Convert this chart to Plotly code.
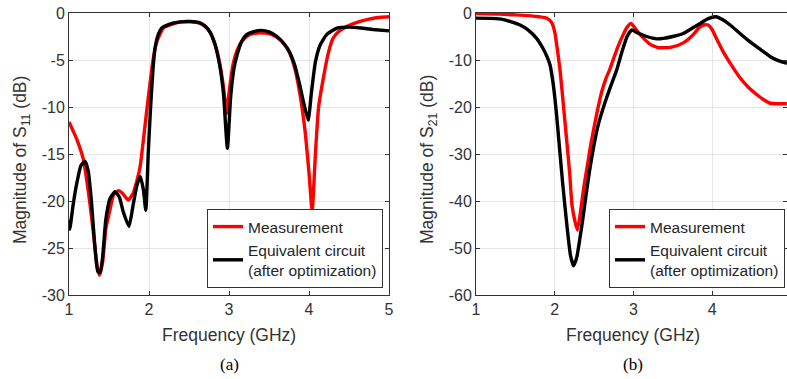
import plotly.graph_objects as go

# ---- (a) S11 ----
s11_meas_f = [1.00, 1.10, 1.18, 1.25, 1.30, 1.35, 1.38, 1.42, 1.46, 1.51, 1.56, 1.62, 1.67, 1.74, 1.80,
              1.85, 1.89, 1.93, 1.97, 2.01, 2.05, 2.10, 2.18, 2.30, 2.40, 2.51, 2.62, 2.70, 2.76, 2.82,
              2.88, 2.93, 2.97, 3.00, 3.05, 3.10, 3.16, 3.22, 3.30, 3.40, 3.50, 3.60, 3.70, 3.76, 3.82,
              3.89, 3.95, 4.00, 4.04, 4.08, 4.12, 4.18, 4.24, 4.30, 4.38, 4.47, 4.60, 4.75, 4.90, 5.00]
s11_meas_db = [-11.6, -13.5, -15.6, -19.5, -23.0, -26.8, -27.9, -26.5, -23.0, -21.0, -19.3, -18.9, -19.2, -19.9, -19.2,
               -17.8, -16.3, -13.5, -10.5, -7.7, -5.0, -3.0, -1.6, -1.15, -0.95, -0.92, -1.05, -1.4, -2.0, -3.2,
               -5.2, -7.8, -10.7, -8.5, -5.5, -4.0, -3.0, -2.5, -2.2, -2.1, -2.2, -2.6, -3.4, -4.3, -5.8,
               -8.8, -12.5, -17.0, -21.0, -15.0, -10.0, -6.9, -4.3, -2.7, -1.9, -1.45, -1.0, -0.65, -0.45, -0.4]

s11_eq_f = [1.00, 1.01, 1.05, 1.10, 1.15, 1.20, 1.24, 1.28, 1.32, 1.36, 1.39, 1.42, 1.46, 1.51, 1.575,
            1.63, 1.68, 1.75, 1.80, 1.85, 1.89, 1.93, 1.96, 1.99, 2.02, 2.05, 2.075, 2.12, 2.16, 2.25,
            2.40, 2.52, 2.62, 2.70, 2.76, 2.82, 2.88, 2.93, 2.98, 3.02, 3.06, 3.10, 3.16, 3.22, 3.30,
            3.40, 3.50, 3.60, 3.70, 3.76, 3.82, 3.88, 3.94, 3.99, 4.03, 4.08, 4.14, 4.22, 4.35, 4.50,
            4.65, 4.80, 5.00]
s11_eq_db = [-22.0, -23.0, -20.5, -18.0, -16.2, -15.8, -16.8, -20.0, -24.5, -27.5, -27.6, -26.0, -22.0, -19.8, -19.0,
             -19.6, -21.2, -22.7, -20.5, -18.3, -17.4, -18.8, -21.0, -15.0, -10.0, -6.0, -3.76, -2.2, -1.6, -1.2,
             -0.95, -0.9, -1.0, -1.4, -2.0, -3.2, -5.4, -8.5, -14.4, -9.0, -6.0, -4.5, -3.0, -2.3, -2.0,
             -1.85, -2.0, -2.5, -3.4, -4.2, -5.5, -7.5, -9.8, -11.4, -8.5, -5.2, -3.4, -2.3, -1.6, -1.5,
             -1.6, -1.75, -1.9]

# ---- (b) S21 ----
s21_meas_f = [1.00, 1.30, 1.50, 1.70, 1.80, 1.90, 1.96, 2.00, 2.04, 2.07, 2.11, 2.15, 2.19, 2.22, 2.26,
              2.29, 2.33, 2.37, 2.41, 2.45, 2.50, 2.55, 2.60, 2.65, 2.70, 2.75, 2.80, 2.87, 2.92, 2.97,
              3.02, 3.07, 3.13, 3.20, 3.30, 3.38, 3.50, 3.64, 3.75, 3.84, 3.89, 3.95, 4.00, 4.06, 4.14,
              4.25, 4.36, 4.46, 4.57, 4.66, 4.74, 4.85, 4.95]
s21_meas_db = [-0.1, -0.2, -0.4, -0.6, -0.8, -1.1, -2.0, -4.0, -8.5, -12.5, -19.5, -26.7, -34.0, -40.9, -44.5,
               -46.2, -42.0, -37.0, -33.0, -28.8, -24.3, -20.2, -16.6, -14.0, -12.0, -9.6, -7.3, -4.6, -3.0, -2.2,
               -3.2, -4.3, -5.4, -6.5, -7.3, -7.4, -7.2, -6.3, -4.8, -3.0, -2.55, -2.55, -3.5, -5.6, -8.2,
               -11.2, -13.9, -15.8, -17.4, -18.5, -19.2, -19.3, -19.3]

s21_eq_f = [1.00, 1.20, 1.35, 1.45, 1.56, 1.66, 1.77, 1.85, 1.90, 1.94, 1.98, 2.02, 2.05, 2.10, 2.15,
            2.20, 2.24, 2.28, 2.32, 2.36, 2.40, 2.45, 2.50, 2.55, 2.64, 2.72, 2.79, 2.85, 2.92, 2.98,
            3.05, 3.17, 3.30, 3.38, 3.50, 3.64, 3.75, 3.85, 3.95, 4.05, 4.13, 4.23, 4.35, 4.48, 4.60,
            4.74, 4.85, 4.95]
s21_eq_db = [-1.1, -1.15, -1.4, -1.9, -2.55, -3.6, -5.4, -7.5, -9.2, -11.0, -15.0, -21.0, -26.6, -36.0, -44.4,
             -51.5, -53.8, -52.0, -48.0, -43.5, -38.5, -32.8, -28.0, -24.0, -19.0, -15.2, -12.0, -8.5, -5.0, -3.6,
             -4.2, -5.0, -5.5, -5.4, -5.0, -4.3, -3.2, -2.2, -1.2, -0.8, -1.4, -2.55, -4.3, -6.1, -7.6,
             -9.3, -10.2, -10.7]

x_ticks = [1, 2, 3, 4, 5]
y11_ticks = [0, -5, -10, -15, -20, -25, -30]
y21_ticks = [0, -10, -20, -30, -40, -50, -60]

RED = "#ff0000"
BLACK = "#000000"
W = 787
H = 379
LW = 3.4

fig = go.Figure()
fig.add_trace(go.Scatter(x=s11_meas_f, y=s11_meas_db, mode="lines", name="Measurement",
                         line=dict(color=RED, width=LW, shape="spline", smoothing=0.5),
                         xaxis="x", yaxis="y", legend="legend"))
fig.add_trace(go.Scatter(x=s11_eq_f, y=s11_eq_db, mode="lines", name="Equivalent circuit<br>(after optimization)",
                         line=dict(color=BLACK, width=LW, shape="spline", smoothing=0.5),
                         xaxis="x", yaxis="y", legend="legend"))
fig.add_trace(go.Scatter(x=s21_meas_f, y=s21_meas_db, mode="lines", name="Measurement",
                         line=dict(color=RED, width=LW, shape="spline", smoothing=0.5),
                         xaxis="x2", yaxis="y2", legend="legend2"))
fig.add_trace(go.Scatter(x=s21_eq_f, y=s21_eq_db, mode="lines", name="Equivalent circuit<br>(after optimization)",
                         line=dict(color=BLACK, width=LW, shape="spline", smoothing=0.5),
                         xaxis="x2", yaxis="y2", legend="legend2"))

tickfont = dict(family="Liberation Sans, Arial", size=16, color="#333333")
axcommon = dict(showline=True, linecolor="#333333", linewidth=1, mirror="allticks",
                ticks="inside", ticklen=4, tickcolor="#333333",
                showgrid=True, gridcolor="#e6e6e6", gridwidth=1, zeroline=False,
                tickfont=tickfont, automargin=False)

legfont = dict(family="Liberation Sans, Arial", size=15.5, color="#262626")
ydom = [1 - 295 / H, 1 - 13 / H]
fig.update_layout(
    template="none",
    width=W, height=H,
    margin=dict(l=0, r=0, t=0, b=0, pad=0),
    paper_bgcolor="white", plot_bgcolor="white",
    xaxis=dict(domain=[69 / W, 389 / W], range=[1, 5], tickvals=x_ticks,
               ticktext=[str(v) for v in x_ticks], anchor="y", **axcommon),
    yaxis=dict(domain=ydom, range=[-30, 0], tickvals=y11_ticks,
               ticktext=[str(v) for v in y11_ticks], anchor="x", **axcommon),
    xaxis2=dict(domain=[476 / W, 1.0], range=[1, 1 + (787 - 476) / 78.7], tickvals=x_ticks,
                ticktext=[str(v) for v in x_ticks], anchor="y2", **axcommon),
    yaxis2=dict(domain=ydom, range=[-60, 0], tickvals=y21_ticks,
                ticktext=[str(v) for v in y21_ticks], anchor="x2", **axcommon),
    legend=dict(x=383 / W, y=1 - 288 / H, xanchor="right", yanchor="bottom",
                bgcolor="white", bordercolor="#333333", borderwidth=1,
                font=legfont, tracegroupgap=0, itemwidth=30),
    legend2=dict(x=785 / W, y=1 - 288 / H, xanchor="right", yanchor="bottom",
                 bgcolor="white", bordercolor="#333333", borderwidth=1,
                 font=legfont, tracegroupgap=0, itemwidth=30),
    showlegend=True,
)

labfont = dict(family="Liberation Sans, Arial", size=17.5, color="#333333")
capfont = dict(family="Liberation Serif, Times New Roman", size=17, color="#000000")
ann = [
    dict(text="Frequency (GHz)", x=229 / W, y=1 - 335 / H, xref="paper", yref="paper",
         showarrow=False, font=labfont, xanchor="center", yanchor="middle"),
    dict(text="Frequency (GHz)", x=633 / W, y=1 - 335 / H, xref="paper", yref="paper",
         showarrow=False, font=labfont, xanchor="center", yanchor="middle"),
    dict(text="Magnitude of S<sub>11</sub> (dB)", x=22 / W, y=1 - 160 / H, xref="paper", yref="paper",
         showarrow=False, font=labfont, textangle=-90, xanchor="center", yanchor="middle"),
    dict(text="Magnitude of S<sub>21</sub> (dB)", x=429 / W, y=1 - 160 / H, xref="paper", yref="paper",
         showarrow=False, font=labfont, textangle=-90, xanchor="center", yanchor="middle"),
    dict(text="(a)", x=229 / W, y=1 - 364 / H, xref="paper", yref="paper",
         showarrow=False, font=capfont, xanchor="center", yanchor="middle"),
    dict(text="(b)", x=633 / W, y=1 - 364 / H, xref="paper", yref="paper",
         showarrow=False, font=capfont, xanchor="center", yanchor="middle"),
]
fig.update_layout(annotations=ann)

fig.write_html("out.html", config={"displayModeBar": False},
               post_script="document.body.style.margin='0px';document.body.style.padding='0px';")
